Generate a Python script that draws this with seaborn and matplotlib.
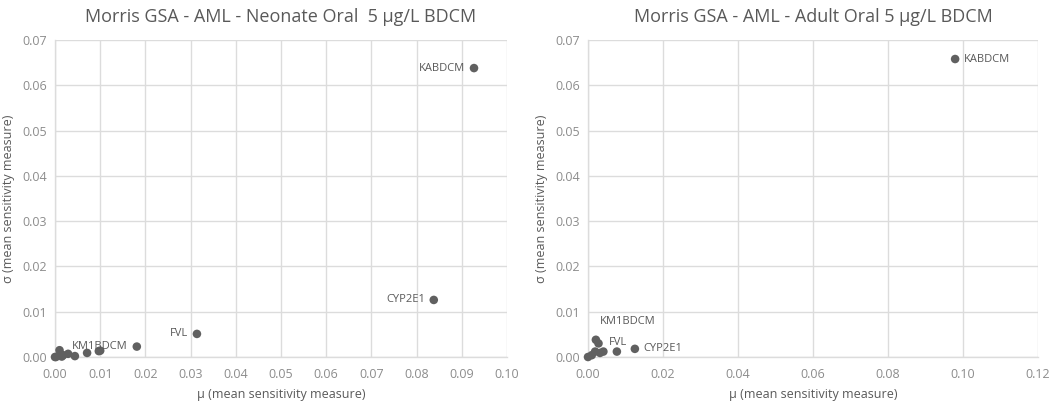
import matplotlib
matplotlib.use("Agg")
import matplotlib.pyplot as plt
import seaborn as sns
import pandas as pd
import numpy as np

# ---- data ----
left_mu = [0.0927, 0.0838, 0.0314, 0.0181, 0.0097, 0.0100, 0.0071, 0.0044, 0.0029, 0.0018, 0.0015, 0.0010, 0.0002, 0.0000]
left_sigma = [0.0638, 0.0126, 0.0051, 0.0023, 0.0013, 0.0014, 0.0009, 0.0002, 0.0007, 0.0004, 0.0001, 0.0015, 0.0000, 0.0000]
left_labels = ["KABDCM", "CYP2E1", "FVL", "KM1BDCM", "", "", "", "", "", "", "", "", "", ""]

right_mu = [0.0979, 0.0125, 0.0028, 0.0021, 0.0077, 0.0041, 0.0032, 0.0019, 0.0010, 0.0000]
right_sigma = [0.0658, 0.0018, 0.0030, 0.0038, 0.0012, 0.0012, 0.0009, 0.0012, 0.0004, 0.0000]
right_labels = ["KABDCM", "CYP2E1", "FVL", "KM1BDCM", "", "", "", "", "", ""]

left_title = "Morris GSA - AML - Neonate Oral  5 µg/L BDCM"
right_title = "Morris GSA - AML - Adult Oral 5 µg/L BDCM"
x_label = "µ (mean sensitivity measure)"
y_label = "σ (mean sensitivity measure)"

left_xticks = [0.00, 0.01, 0.02, 0.03, 0.04, 0.05, 0.06, 0.07, 0.08, 0.09, 0.10]
right_xticks = [0.00, 0.02, 0.04, 0.06, 0.08, 0.10, 0.12]
yticks = [0.00, 0.01, 0.02, 0.03, 0.04, 0.05, 0.06, 0.07]

sns.set_theme(style="white")
plt.rcParams['font.family'] = ['Open Sans', 'DejaVu Sans']

GRID = "#dcdcdc"
TICK = "#8c8c8c"
TXT = "#595959"
MARK = "#606060"

fig = plt.figure(figsize=(10.5, 4.04), dpi=100)
ax1 = fig.add_axes([55/1050, 1-357/404, (507-55)/1050, (357-40)/404])
ax2 = fig.add_axes([588/1050, 1-357/404, (1038-588)/1050, (357-40)/404])

def style(ax, xticks, title):
    ax.set_xlim(xticks[0], xticks[-1])
    ax.set_ylim(yticks[0], yticks[-1])
    ax.set_xticks(xticks)
    ax.set_yticks(yticks)
    ax.set_xticklabels([f"{v:.2f}" for v in xticks], color=TICK, fontsize=9)
    ax.set_yticklabels([f"{v:.2f}" for v in yticks], color=TICK, fontsize=9)
    ax.grid(True, color=GRID, linewidth=1)
    ax.set_axisbelow(True)
    for s in ["top", "right"]:
        ax.spines[s].set_visible(False)
    for s in ["left", "bottom"]:
        ax.spines[s].set_color(GRID)
        ax.spines[s].set_linewidth(1)
    ax.tick_params(axis="x", length=0, pad=8)
    ax.tick_params(axis="y", length=0, pad=6)
    ax.set_xlabel(x_label, color=TXT, fontsize=9, labelpad=5)
    ax.set_ylabel(y_label, color=TXT, fontsize=9, labelpad=5)
    ax.set_title(title, color=TXT, fontsize=13, pad=13)

df1 = pd.DataFrame({"mu": left_mu, "sigma": left_sigma, "label": left_labels})
df2 = pd.DataFrame({"mu": right_mu, "sigma": right_sigma, "label": right_labels})

sns.scatterplot(data=df1, x="mu", y="sigma", ax=ax1, color=MARK, s=38, edgecolor="none", clip_on=False, zorder=3)
sns.scatterplot(data=df2, x="mu", y="sigma", ax=ax2, color=MARK, s=38, edgecolor="none", clip_on=False, zorder=3)

style(ax1, left_xticks, left_title)
style(ax2, right_xticks, right_title)

for _, r in df1.iterrows():
    if r["label"]:
        ax1.annotate(r["label"], (r["mu"], r["sigma"]), xytext=(-9, 0), textcoords="offset pixels",
                     ha="right", va="center", fontsize=8, color=TXT)

right_offsets = {"KABDCM": (9, 0, "left"), "CYP2E1": (9, 0, "left"), "FVL": (10, 1, "left"), "KM1BDCM": (4, 18, "left")}
for _, r in df2.iterrows():
    if r["label"]:
        dx, dy, ha = right_offsets[r["label"]]
        ax2.annotate(r["label"], (r["mu"], r["sigma"]), xytext=(dx, dy), textcoords="offset pixels",
                     ha=ha, va="center", fontsize=8, color=TXT)

fig.savefig("out.png", dpi=100, facecolor="white")
